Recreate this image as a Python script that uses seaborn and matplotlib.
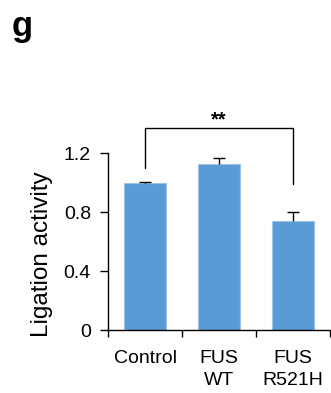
import matplotlib
matplotlib.use("Agg")
import matplotlib.pyplot as plt
import seaborn as sns
import pandas as pd

categories = ["Control", "FUS\nWT", "FUS\nR521H"]
values = [1.0, 1.13, 0.74]
errors = [0.005, 0.04, 0.06]
yticks = [0, 0.4, 0.8, 1.2]
ytick_labels = ["0", "0.4", "0.8", "1.2"]

sns.set_style("white")
plt.rcParams['font.family'] = ['Liberation Sans', 'DejaVu Sans']
plt.rcParams['text.color'] = 'black'
plt.rcParams['xtick.color'] = 'black'
plt.rcParams['ytick.color'] = 'black'
plt.rcParams['axes.labelcolor'] = 'black'

fig = plt.figure(figsize=(3.31, 3.93), dpi=100)
ax = fig.add_axes([0.327, 0.160, 0.670, 0.450])

df = pd.DataFrame({"cat": categories, "val": values})
sns.barplot(data=df, x="cat", y="val", color="#5B9BD5", saturation=1,
            width=0.57, errorbar=None, edgecolor="#9DC3E6", linewidth=0.8, ax=ax)
eb = ax.errorbar(range(len(categories)), values, yerr=[[0]*len(errors), errors],
                 fmt="none", ecolor="black", elinewidth=1.0, capsize=4.5, capthick=1.0)
eb[1][0].set_visible(False)

ax.set_xlim(-0.5, 2.5)
ax.set_ylim(0, 1.2)
ax.set_yticks(yticks)
ax.set_yticklabels(ytick_labels, fontsize=14)
ax.set_xticks(range(len(categories)))
ax.set_xticklabels(categories, fontsize=14, linespacing=1.45)
ax.set_xticks([-0.5, 0.5, 1.5, 2.5], minor=True)
ax.tick_params(axis="x", which="major", length=0, pad=14)
ax.tick_params(axis="x", which="minor", length=5, width=1, color="black", direction="out", bottom=True)
ax.tick_params(axis="y", length=5.5, width=1, color="black", direction="out", left=True, pad=7)
ax.set_xlabel("")
ax.set_ylabel("Ligation activity", fontsize=17.5)
ax.yaxis.set_label_coords(-0.25, 0.432)

for s in ["top", "right"]:
    ax.spines[s].set_visible(False)
for s in ["left", "bottom"]:
    ax.spines[s].set_color("black")
    ax.spines[s].set_linewidth(1.0)

# significance bracket
ax.plot([0, 0, 2, 2], [1.10, 1.37, 1.37, 0.99], color="black", lw=1.0, clip_on=False)
ax.text(1, 1.39, "**", ha="center", va="baseline", fontsize=14.5, fontweight="bold")

fig.text(0.036, 0.975, "g", fontsize=25, fontweight="bold", va="top", ha="left")

fig.savefig("out.png", dpi=100)
